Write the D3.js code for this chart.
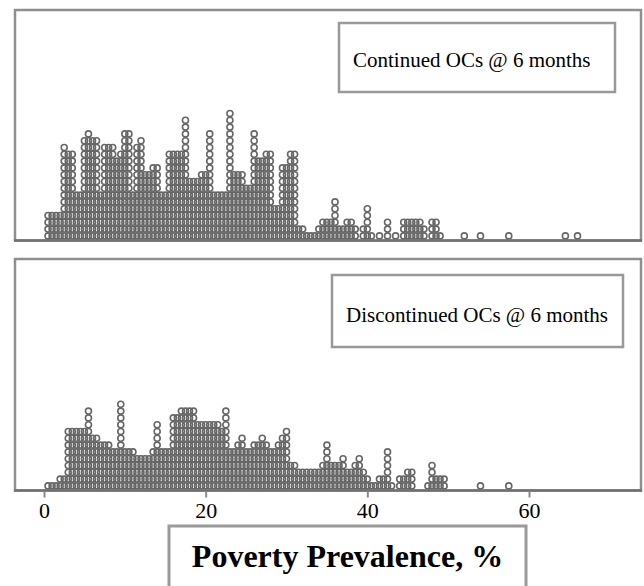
<!DOCTYPE html>
<html>
<head>
<meta charset="utf-8">
<script src="https://cdn.jsdelivr.net/npm/d3@7"></script>
<style>
  body { margin: 0; background: #fff; }
  text { font-family: "Liberation Serif", "Times New Roman", serif; }
</style>
</head>
<body>
<div id="chart"></div>
<script>
// poverty prevalence (%) bins and number of dots stacked in each bin
const contBins = [0.5, 1, 1.5, 2, 2.5, 3, 3.5, 4, 4.5, 5, 5.5, 6, 6.5, 7, 7.5, 8, 8.5, 9, 9.5, 10,
  10.5, 11, 11.5, 12, 12.5, 13, 13.5, 14, 14.5, 15, 15.5, 16, 16.5, 17, 17.5, 18, 18.5, 19, 19.5, 20,
  20.5, 21, 21.5, 22, 22.5, 23, 23.5, 24, 24.5, 25, 25.5, 26, 26.5, 27, 27.5, 28, 28.5, 29, 29.5, 30,
  30.5, 31, 31.5, 32, 32.5, 33, 33.5, 34, 34.5, 35, 35.5, 36, 36.5, 37, 37.5, 38, 38.5, 39.5, 40, 40.5,
  41.5, 42.5, 43.5, 44.5, 45, 45.5, 46, 46.5, 47, 48, 48.5, 49, 52, 54, 57.5, 64.5, 66];
const contCounts = [4, 4, 4, 4, 14, 13, 13, 7, 7, 15, 16, 15, 15, 7, 14, 14, 14, 12, 13, 16,
  16, 7, 14, 15, 10, 10, 11, 11, 7, 7, 13, 13, 13, 13, 18, 9, 9, 9, 10, 10,
  16, 7, 7, 7, 7, 19, 10, 10, 10, 8, 8, 16, 12, 12, 13, 13, 5, 5, 11, 11,
  13, 13, 2, 2, 1, 1, 1, 2, 3, 3, 3, 6, 2, 2, 3, 3, 2, 2, 5, 1,
  1, 3, 1, 3, 3, 3, 3, 3, 2, 3, 3, 1, 1, 1, 1, 1, 1];

const discBins = [0.5, 1, 1.5, 2, 2.5, 3, 3.5, 4, 4.5, 5, 5.5, 6, 6.5, 7, 7.5, 8, 8.5, 9, 9.5, 10,
  10.5, 11, 11.5, 12, 12.5, 13, 13.5, 14, 14.5, 15, 15.5, 16, 16.5, 17, 17.5, 18, 18.5, 19, 19.5, 20,
  20.5, 21, 21.5, 22, 22.5, 23, 23.5, 24, 24.5, 25, 25.5, 26, 26.5, 27, 27.5, 28, 28.5, 29, 29.5, 30,
  30.5, 31, 31.5, 32, 32.5, 33, 33.5, 34, 34.5, 35, 35.5, 36, 36.5, 37, 37.5, 38, 38.5, 39, 39.5, 40,
  40.5, 41, 41.5, 42, 42.5, 43, 44, 44.5, 45, 45.5, 47.5, 48, 48.5, 49, 49.5, 54, 57.5];
const discCounts = [1, 1, 1, 2, 2, 9, 9, 9, 9, 9, 12, 8, 8, 7, 7, 7, 6, 6, 13, 6,
  6, 6, 5, 5, 5, 5, 6, 10, 6, 6, 6, 11, 11, 12, 12, 12, 12, 10, 10, 10,
  10, 10, 10, 9, 12, 6, 6, 7, 8, 6, 6, 7, 7, 8, 7, 6, 6, 7, 8, 9,
  4, 4, 3, 3, 3, 3, 3, 3, 4, 7, 4, 4, 4, 5, 3, 3, 4, 5, 3, 2,
  1, 1, 2, 2, 6, 1, 2, 2, 3, 3, 1, 4, 2, 2, 2, 1, 1];

const xTicks = [0, 20, 40, 60];
const panelLabels = ['Continued OCs @ 6 months', 'Discontinued OCs @ 6 months'];
const axisTitle = 'Poverty Prevalence, %';

const width = 644, height = 586;
const svg = d3.select('#chart').append('svg')
    .attr('width', width)
    .attr('height', height);

const x = d3.scaleLinear().domain([0, 60]).range([44, 529]);

const panels = [
  {bins: contBins, counts: contCounts, label: panelLabels[0], top: 10, base: 240.5,
   box: {x: 339, y: 23, w: 276, h: 69}, textY: 67, ticks: false},
  {bins: discBins, counts: discCounts, label: panelLabels[1], top: 259, base: 490.5,
   box: {x: 332, y: 275, w: 291, h: 72}, textY: 322, ticks: true}
];

panels.forEach(p => {
  const g = svg.append('g');

  g.append('rect')
      .attr('x', 15)
      .attr('y', p.top)
      .attr('width', 626)
      .attr('height', p.base - p.top)
      .attr('fill', 'none')
      .attr('stroke', '#8f8f8f')
      .attr('stroke-width', 2.5);

  // stacked dots, one row per unit of count
  const y = d3.scaleLinear().domain([0, 1]).range([p.base - 4.6, p.base - 4.6 - 6.8]);
  const dots = [];
  p.bins.forEach((v, i) => {
    for (let k = 0; k < p.counts[i]; k++) dots.push({v: v, k: k});
  });

  g.append('g')
      .selectAll('circle')
      .data(dots)
      .join('circle')
      .attr('cx', d => x(d.v))
      .attr('cy', d => y(d.k))
      .attr('r', 3.0)
      .attr('fill', 'none')
      .attr('stroke', '#666')
      .attr('stroke-width', 1.6);

  g.append('line')
      .attr('x1', 14)
      .attr('x2', 642)
      .attr('y1', p.base)
      .attr('y2', p.base)
      .attr('stroke', '#707070')
      .attr('stroke-width', 2.5);

  if (p.ticks) {
    const xAxis = d3.axisBottom(x)
        .tickValues(xTicks)
        .tickSize(6)
        .tickPadding(4.5);
    g.append('g')
        .attr('transform', 'translate(0,' + (p.base + 1) + ')')
        .call(xAxis)
        .call(a => a.select('.domain').remove())
        .call(a => a.selectAll('line').attr('stroke', '#8a8a8a').attr('stroke-width', 2))
        .call(a => a.selectAll('text')
            .attr('font-size', '22px')
            .attr('font-family', '"Liberation Serif", "Times New Roman", serif')
            .attr('fill', '#000'));
  }

  g.append('rect')
      .attr('x', p.box.x)
      .attr('y', p.box.y)
      .attr('width', p.box.w)
      .attr('height', p.box.h)
      .attr('fill', '#fff')
      .attr('stroke', '#999')
      .attr('stroke-width', 2.5);

  g.append('text')
      .attr('x', p.box.x + 14)
      .attr('y', p.textY)
      .attr('font-size', '21px')
      .attr('fill', '#000')
      .text(p.label);
});

svg.append('rect')
    .attr('x', 169)
    .attr('y', 526)
    .attr('width', 357)
    .attr('height', 75)
    .attr('fill', '#fff')
    .attr('stroke', '#9a9a9a')
    .attr('stroke-width', 3);

svg.append('text')
    .attr('x', 347.5)
    .attr('y', 567)
    .attr('text-anchor', 'middle')
    .attr('font-size', '32px')
    .attr('font-weight', 'bold')
    .attr('fill', '#000')
    .text(axisTitle);
</script>
</body>
</html>
